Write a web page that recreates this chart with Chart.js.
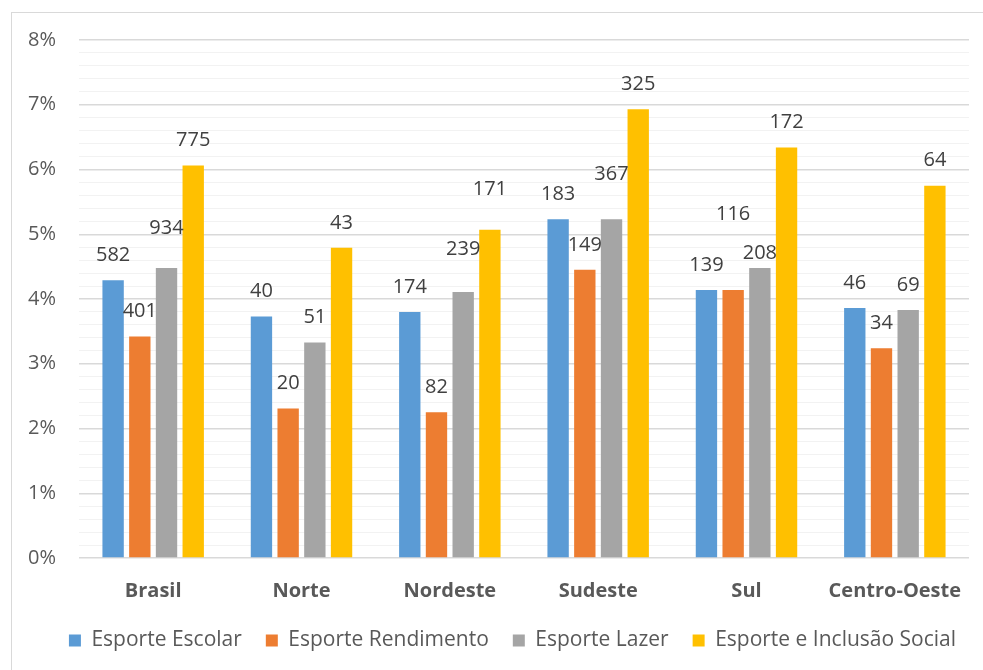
<!DOCTYPE html>
<html lang="pt-BR">
<head>
<meta charset="UTF-8">
<title>Esporte por região</title>
<script src="https://cdn.jsdelivr.net/npm/chart.js"></script>
<style>
    body { margin: 0; background: #fff; overflow: hidden; }
    .moldura { position: absolute; left: 11px; top: 12px; width: 1000px; height: 700px; border: 1px solid #d9d9d9; }
    .grafico { position: absolute; left: 0; top: 0; width: 983px; height: 670px; }
</style>
</head>
<body>

<div class="moldura"></div>
<div class="grafico"><canvas id="graficoRegioes"></canvas></div>

<script>
    // categorias e séries
    const regioes = ['Brasil', 'Norte', 'Nordeste', 'Sudeste', 'Sul', 'Centro-Oeste'];
    const nomesSeries = ['Esporte Escolar', 'Esporte Rendimento', 'Esporte Lazer', 'Esporte e Inclusão Social'];

    // percentual (altura das barras)
    const pctEscolar    = [4.29, 3.73, 3.80, 5.23, 4.14, 3.86];
    const pctRendimento = [3.42, 2.31, 2.25, 4.45, 4.14, 3.24];
    const pctLazer      = [4.48, 3.33, 4.11, 5.23, 4.48, 3.83];
    const pctInclusao   = [6.06, 4.79, 5.07, 6.93, 6.34, 5.75];

    // quantidades (rótulos sobre as barras)
    const qtdEscolar    = [582, 40, 174, 183, 139, 46];
    const qtdRendimento = [401, 20, 82, 149, 116, 34];
    const qtdLazer      = [934, 51, 239, 367, 208, 69];
    const qtdInclusao   = [775, 43, 171, 325, 172, 64];

    const cores = ['#5B9BD5', '#ED7D31', '#A5A5A5', '#FFC000'];

    // alguns rótulos ficam deslocados para cima/baixo (px), chave "serie-regiao"
    const ajusteRotulo = { '2-0': 15, '2-2': 18, '3-2': 15, '2-3': 20, '1-4': 51, '2-4': -10 };

    const percentuais = [pctEscolar, pctRendimento, pctLazer, pctInclusao];
    const quantidades = [qtdEscolar, qtdRendimento, qtdLazer, qtdInclusao];

    const rotulosPlugin = {
        id: 'rotulos',
        afterDatasetsDraw(chart) {
            const ctx = chart.ctx;
            ctx.save();
            ctx.font = '20px "Open Sans"';
            ctx.fillStyle = '#404040';
            ctx.textAlign = 'center';
            ctx.textBaseline = 'middle';
            chart.data.datasets.forEach((ds, i) => {
                chart.getDatasetMeta(i).data.forEach((bar, j) => {
                    const extra = ajusteRotulo[i + '-' + j] || 0;
                    ctx.fillText(quantidades[i][j], bar.x, bar.y - 25 - extra);
                });
            });
            ctx.restore();
        }
    };

    // empurra a legenda um pouco para a direita
    const legendaPlugin = {
        id: 'legendaDeslocada',
        afterLayout(chart) {
            const lg = chart.legend;
            if (!lg) return;
            lg.left += 28;
            lg.right += 28;
        }
    };

    function inteiro(v) {
        return Math.abs(v - Math.round(v)) < 1e-6;
    }

    Chart.defaults.font.family = '"Open Sans", sans-serif';
    Chart.defaults.color = '#595959';

    new Chart(document.getElementById('graficoRegioes'), {
        type: 'bar',
        data: {
            labels: regioes,
            datasets: nomesSeries.map((nome, i) => ({
                label: nome,
                data: percentuais[i],
                backgroundColor: cores[i],
                borderWidth: 0,
                categoryPercentage: 0.72,
                barPercentage: 0.8
            }))
        },
        options: {
            responsive: true,
            maintainAspectRatio: false,
            animation: false,
            layout: { padding: { left: 0, right: 14, top: 40, bottom: 9 } },
            plugins: {
                tooltip: { enabled: false },
                legend: {
                    position: 'bottom',
                    labels: {
                        boxWidth: 12,
                        boxHeight: 12,
                        padding: 24,
                        font: { size: 21 },
                        color: '#595959'
                    }
                }
            },
            scales: {
                x: {
                    afterFit(scale) { scale.height -= 10; },
                    grid: { display: false },
                    border: { display: false },
                    ticks: { font: { size: 20, weight: 'bold' }, color: '#595959', padding: 13 }
                },
                y: {
                    min: 0,
                    max: 8,
                    afterFit(scale) { scale.width = 79; },
                    border: { display: false },
                    grid: {
                        drawTicks: false,
                        color: c => inteiro(c.tick.value) ? '#d9d9d9' : '#f2f2f2',
                        lineWidth: c => inteiro(c.tick.value) ? 1.5 : 1
                    },
                    ticks: {
                        stepSize: 0.2,
                        autoSkip: false,
                        padding: 23,
                        font: { size: 20 },
                        color: '#595959',
                        callback: v => inteiro(v) ? Math.round(v) + '%' : ''
                    }
                }
            }
        },
        plugins: [rotulosPlugin, legendaPlugin]
    });
</script>

</body>
</html>
